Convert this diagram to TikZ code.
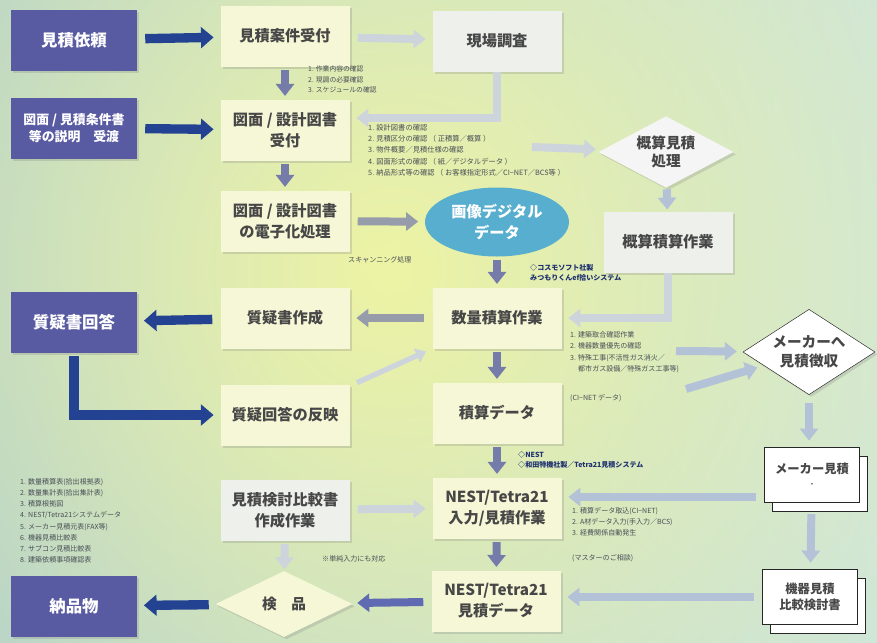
\documentclass[tikz,border=0pt]{standalone}
\usepackage{fontspec}
\setmainfont{Noto Sans CJK JP}
\usetikzlibrary{shapes.geometric,shadows,fadings,arrows.meta,calc}

\definecolor{bgleft}{RGB}{160,198,218}
\definecolor{bgright}{RGB}{198,226,234}
\definecolor{glow}{RGB}{238,244,164}
\definecolor{boxyellow}{RGB}{246,247,214}
\definecolor{boxgray}{RGB}{238,240,236}
\definecolor{boxpurple}{RGB}{88,90,162}
\definecolor{ovalblue}{RGB}{88,174,206}
\definecolor{arrowlight}{RGB}{206,212,220}
\definecolor{arrowsoft}{RGB}{180,194,216}
\definecolor{arrowgray}{RGB}{150,156,170}
\definecolor{arrowmid}{RGB}{118,124,170}
\definecolor{arrowblue}{RGB}{96,106,178}
\definecolor{arrowdark}{RGB}{36,66,146}
\definecolor{notenavy}{RGB}{30,48,112}
\definecolor{notegray}{RGB}{72,78,86}

\tikzfading[name=glowfade, inner color=transparent!0, outer color=transparent!100]

\tikzset{
  box/.style={rectangle, minimum width=38.7mm, minimum height=18.3mm, align=center,
    font=\fontsize{13}{18}\selectfont\bfseries, text=black!72,
    drop shadow={shadow xshift=0.7mm, shadow yshift=-0.7mm, opacity=0.25}},
  ybox/.style={box, fill=boxyellow},
  gbox/.style={box, fill=boxgray},
  pbox/.style={box, fill=boxpurple, text=white, minimum width=37.8mm},
  wbox/.style={rectangle, draw=black!85, fill=white, minimum width=28.5mm, minimum height=16.5mm,
    align=center, font=\fontsize{10.5}{14}\selectfont\bfseries, text=black!72,
    copy shadow={shadow xshift=2.4mm, shadow yshift=-2.6mm}},
  dia/.style={diamond, inner sep=-1.5mm, align=center,
    font=\fontsize{12.5}{16}\selectfont\bfseries, text=black!72,
    drop shadow={shadow xshift=0.7mm, shadow yshift=-0.7mm, opacity=0.25}},
  note/.style={anchor=north west, align=left, inner sep=0pt, font=\fontsize{6}{9.4}\selectfont, text=notegray},
  navynote/.style={note, font=\fontsize{6}{8.5}\selectfont\bfseries, text=notenavy},
  flow/.style={line width=2.4mm, -{Triangle[length=3.6mm,width=5.4mm]}, shorten <=2.4mm, shorten >=2mm},
  larrow/.style={flow, draw=arrowlight},
  sarrow/.style={flow, draw=arrowsoft},
  garrow/.style={flow, draw=arrowgray},
  marrow/.style={flow, draw=arrowmid},
  parrow/.style={flow, draw=arrowblue},
  darrow/.style={flow, draw=arrowdark, line width=2.8mm, -{Triangle[length=3.8mm,width=6.2mm]}},
}

\begin{document}
\begin{tikzpicture}[x=0.3mm, y=-0.3mm]
\useasboundingbox (0,0) rectangle (877,642);

% Background
\shade[left color=bgleft, right color=bgright] (0,0) rectangle (877,642);
\fill[glow, path fading=glowfade] (390,270) ellipse (240mm and 250mm);

% Left column
\node[pbox, font=\fontsize{14}{18}\selectfont\bfseries] (irai) at (74,40) {見積依頼};
\node[pbox, font=\fontsize{11}{15}\selectfont\bfseries] (setsumei) at (74,128) {図面 / 見積条件書\\等の説明　受渡};
\node[pbox, font=\fontsize{14}{18}\selectfont\bfseries] (kaito) at (74,322) {質疑書回答};
\node[pbox, font=\fontsize{14}{18}\selectfont\bfseries] (nohin) at (74,606) {納品物};

% Middle column
\node[ybox] (uketsuke) at (285,36) {見積案件受付};
\node[ybox] (zumen) at (285,130) {図面 / 設計図書\\受付};
\node[ybox] (denshi) at (285,221) {図面 / 設計図書\\の電子化処理};
\node[ybox] (sakusei) at (285,318) {質疑書作成};
\node[ybox] (hanei) at (285,415) {質疑回答の反映};
\node[gbox] (kento) at (285,510) {見積検討比較書\\作成作業};
\node[dia, fill=boxyellow, minimum width=41mm, minimum height=19.8mm] (kenpin) at (284,604) {検　品};

% Centre column
\node[gbox] (genba) at (497,41) {現場調査};
\node[ellipse, fill=ovalblue, text=white, minimum width=43.2mm, minimum height=20.7mm, inner sep=0pt,
  align=center, font=\fontsize{13}{18}\selectfont\bfseries] (gazo) at (497,222) {画像デジタル\\データ};
\node[ybox] (suryo) at (497,318) {数量積算作業};
\node[ybox] (sekisan) at (497,413) {積算データ};
\node[ybox] (nyuryoku) at (497,508) {NEST/Tetra21\\入力/見積作業};
\node[ybox] (nestdata) at (496,601) {NEST/Tetra21\\見積データ};

% Right column
\node[dia, fill=white!92!gray, minimum width=40.5mm, minimum height=18mm] (gaisan) at (666,152) {概算見積\\処理};
\node[gbox] (gaisansagyo) at (668,242) {概算積算作業};
\node[dia, draw=black!85, fill=white, minimum width=39.6mm, minimum height=19.8mm] (choshu) at (809,352) {メーカーへ\\見積徴収};
\node[wbox] (maker) at (812,475) {メーカー見積\\[-3pt]{\tiny ・}};
\node[wbox] (hikaku) at (810,597) {機器見積\\比較検討書};

% Notes
\node[note, font=\fontsize{5.8}{8.6}\selectfont] (kakunin1) at (308,66) {1. 作業内容の確認\\2. 現調の必要確認\\3. スケジュールの確認};
\node[note, font=\fontsize{6.2}{9.6}\selectfont] (kakunin2) at (368,124) {1. 設計図書の確認\\2. 見積区分の確認 （ 正積算／概算 ）\\3. 物件概要／見積仕様の確認\\4. 図面形式の確認 （ 紙／デジタルデータ ）\\5. 納品形式等の確認 （ お客様指定形式／CI−NET／BCS等 ）};
\node[note] (scan) at (348,256) {スキャンニング処理};
\node[navynote] (cosmo) at (530,264) {◇コスモソフト社製\\みつもりくんef拾いシステム};
\node[note, font=\fontsize{6}{9.8}\selectfont] (kakunin3) at (570,331) {1. 建築取合確認作業\\2. 機器数量優先の確認\\3. 特殊工事(不活性ガス消火／\\\phantom{3. }都市ガス設備／特殊ガス工事等)};
\node[note] (cinet) at (570,394) {(CI−NET データ)};
\node[navynote] (nest) at (518,451) {◇NEST\\◇和田特機社製／Tetra21見積システム};
\node[note, font=\fontsize{6}{9.6}\selectfont] (nohinlist) at (20,478) {1. 数量積算表(拾出根拠表)\\2. 数量集計表(拾出集計表)\\3. 積算根拠図\\4. NEST/Tetra21システムデータ\\5. メーカー見積元表(FAX等)\\6. 機器見積比較表\\7. サブコン見積比較表\\8. 建築依頼事項確認表};
\node[note] (kakunin4) at (572,507) {1. 積算データ取込(CI−NET)\\2. A材データ入力(手入力／BCS)\\3. 経費関係自動発生};
\node[note] (master) at (572,554) {(マスターのご相談)};
\node[note] (tanjun) at (322,555) {※単純入力にも対応};

% Free ends
\coordinate (listend) at (532,147);
\coordinate (tokushu1) at (676,351);
\coordinate (tokushu2) at (686,389);

% Dark arrows
\draw[darrow] (irai) -- (uketsuke);
\draw[darrow] (setsumei) -- (zumen);
\draw[darrow] (sakusei) -- (kaito);
\draw[darrow, shorten <=1mm] (kaito.south) |- (hanei.west);
\draw[darrow] (kenpin) -- (nohin);

% Upper flow
\draw[larrow] (uketsuke) -- (genba);
\draw[marrow, shorten <=1mm, shorten >=1mm] (uketsuke) -- (zumen);
\draw[larrow, shorten <=0mm] (genba.south) |- ([yshift=3.6mm]zumen.east);
\draw[marrow, shorten <=1mm, shorten >=1mm] (zumen) -- (denshi);
\draw[garrow] (denshi) -- (gazo);
\draw[larrow, shorten <=0mm] (listend) -- (gaisan);
\draw[sarrow, shorten <=0.5mm, shorten >=0.5mm] (gaisan) -- (gaisansagyo);

% Middle flow
\draw[marrow, shorten <=1mm, shorten >=1mm] (gazo) -- (suryo);
\draw[larrow, shorten <=0mm] (gaisansagyo.south) |- (suryo.east);
\draw[garrow] (suryo) -- (sakusei);
\draw[larrow, line width=1.6mm, -{Triangle[length=3mm,width=4.4mm]}] (hanei) -- (suryo.south west);
\draw[marrow, shorten <=1mm, shorten >=1mm] (suryo) -- (sekisan);
\draw[sarrow, shorten <=0mm] (tokushu1) -- (choshu);
\draw[sarrow, shorten <=0mm] (tokushu2) -- (choshu);

% Lower flow
\draw[sarrow] (choshu.south) -- (maker.north -| choshu.south);
\draw[sarrow, shorten <=3.4mm] (maker) -- (hikaku);
\draw[sarrow] ([yshift=-6.6mm]maker.west) -- ([yshift=-6.6mm]maker.west -| nyuryoku.east);
\draw[marrow, shorten <=1mm, shorten >=1mm] (sekisan) -- (nyuryoku);
\draw[larrow] (kento) -- (nyuryoku);
\draw[marrow, shorten <=1mm, shorten >=1mm] (nyuryoku) -- (nestdata);
\draw[sarrow] (hikaku.west) -- (hikaku.west -| nestdata.east);
\draw[parrow] (nestdata) -- (kenpin);
\draw[larrow, shorten <=1mm, shorten >=0.5mm] (kento) -- (kenpin);

\end{tikzpicture}
\end{document}
